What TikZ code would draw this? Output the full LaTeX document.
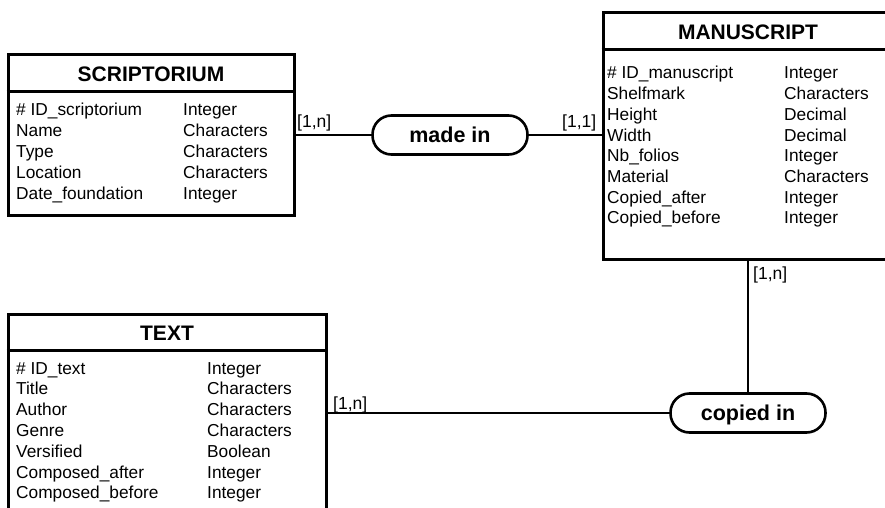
\documentclass[tikz,border=0pt]{standalone}
\usepackage{fontspec}
\setmainfont{Liberation Sans}
\begin{document}
\begin{tikzpicture}[x=1pt,y=-1pt,
  entbox/.style={draw, line width=3pt, inner sep=0pt},
  relbox/.style={draw, line width=2.6pt, rounded corners=19pt, minimum width=155pt, minimum height=39pt, inner sep=0pt, font=\fontsize{21.5pt}{24pt}\selectfont\bfseries, text height=15.4pt, text depth=0pt},
  enttitle/.style={font=\fontsize{21pt}{24pt}\selectfont\bfseries, inner sep=0pt, text height=15.1pt, text depth=0pt},
  attr/.style={font=\fontsize{17.3pt}{20pt}\selectfont, inner sep=0pt, anchor=base west},
  cardlbl/.style={font=\fontsize{17.5pt}{20pt}\selectfont, inner sep=0pt, anchor=base west},
  conn/.style={line width=2pt},
  hdr/.style={line width=3pt}]
\useasboundingbox (0,0) rectangle (885,508);
\clip (0,0) rectangle (885,508);

% SCRIPTORIUM
\node[entbox, minimum width=286pt, minimum height=160pt] (scr) at (151,135) {};
\draw[hdr] ([yshift=-38pt]scr.north west) -- ([yshift=-38pt]scr.north east);
\node[enttitle] (scrT) at (151,74) {SCRIPTORIUM};
\foreach \a/\b [count=\i] in {{\# ID\_scriptorium}/Integer, Name/Characters, Type/Characters, Location/Characters, {Date\_foundation}/Integer}{
  \node[attr] (scrA\i) at (16,{116+20.75*(\i-1)}) {\a};
  \node[attr] (scrB\i) at (183,{116+20.75*(\i-1)}) {\b};
}

% MANUSCRIPT
\node[entbox, minimum width=290pt, minimum height=246pt] (man) at (748,136) {};
\draw[hdr] ([yshift=-38pt]man.north west) -- ([yshift=-38pt]man.north east);
\node[enttitle] (manT) at (748,32) {MANUSCRIPT};
\foreach \a/\b [count=\i] in {{\# ID\_manuscript}/Integer, Shelfmark/Characters, Height/Decimal, Width/Decimal, {Nb\_folios}/Integer, Material/Characters, {Copied\_after}/Integer, {Copied\_before}/Integer}{
  \node[attr] (manA\i) at (607,{79+20.7*(\i-1)}) {\a};
  \node[attr] (manB\i) at (784,{79+20.7*(\i-1)}) {\b};
}

% TEXT
\node[entbox, minimum width=318pt, minimum height=216pt] (txt) at (167,422) {};
\draw[hdr] ([yshift=-38pt]txt.north west) -- ([yshift=-38pt]txt.north east);
\node[enttitle] (txtT) at (167,333) {TEXT};
\foreach \a/\b [count=\i] in {{\# ID\_text}/Integer, Title/Characters, Author/Characters, Genre/Characters, Versified/Boolean, {Composed\_after}/Integer, {Composed\_before}/Integer}{
  \node[attr] (txtA\i) at (16,{374+20.8*(\i-1)}) {\a};
  \node[attr] (txtB\i) at (207,{374+20.8*(\i-1)}) {\b};
}

% relationships
\node[relbox] (made) at (450,135) {made in};
\node[relbox] (copied) at (748,413) {copied in};

\draw[conn] (scr.east) -- (made.west);
\draw[conn] (made.east) -- (made.east -| man.west);
\draw[conn] (man.south) -- (copied.north);
\draw[conn] (copied.west) -- (copied.west -| txt.east);

% cardinalities
\node[cardlbl] (c1) at (297,128) {[1,n]};
\node[cardlbl] (c2) at (562,128) {[1,1]};
\node[cardlbl] (c3) at (753,279) {[1,n]};
\node[cardlbl] (c4) at (333,409) {[1,n]};
\end{tikzpicture}
\end{document}
